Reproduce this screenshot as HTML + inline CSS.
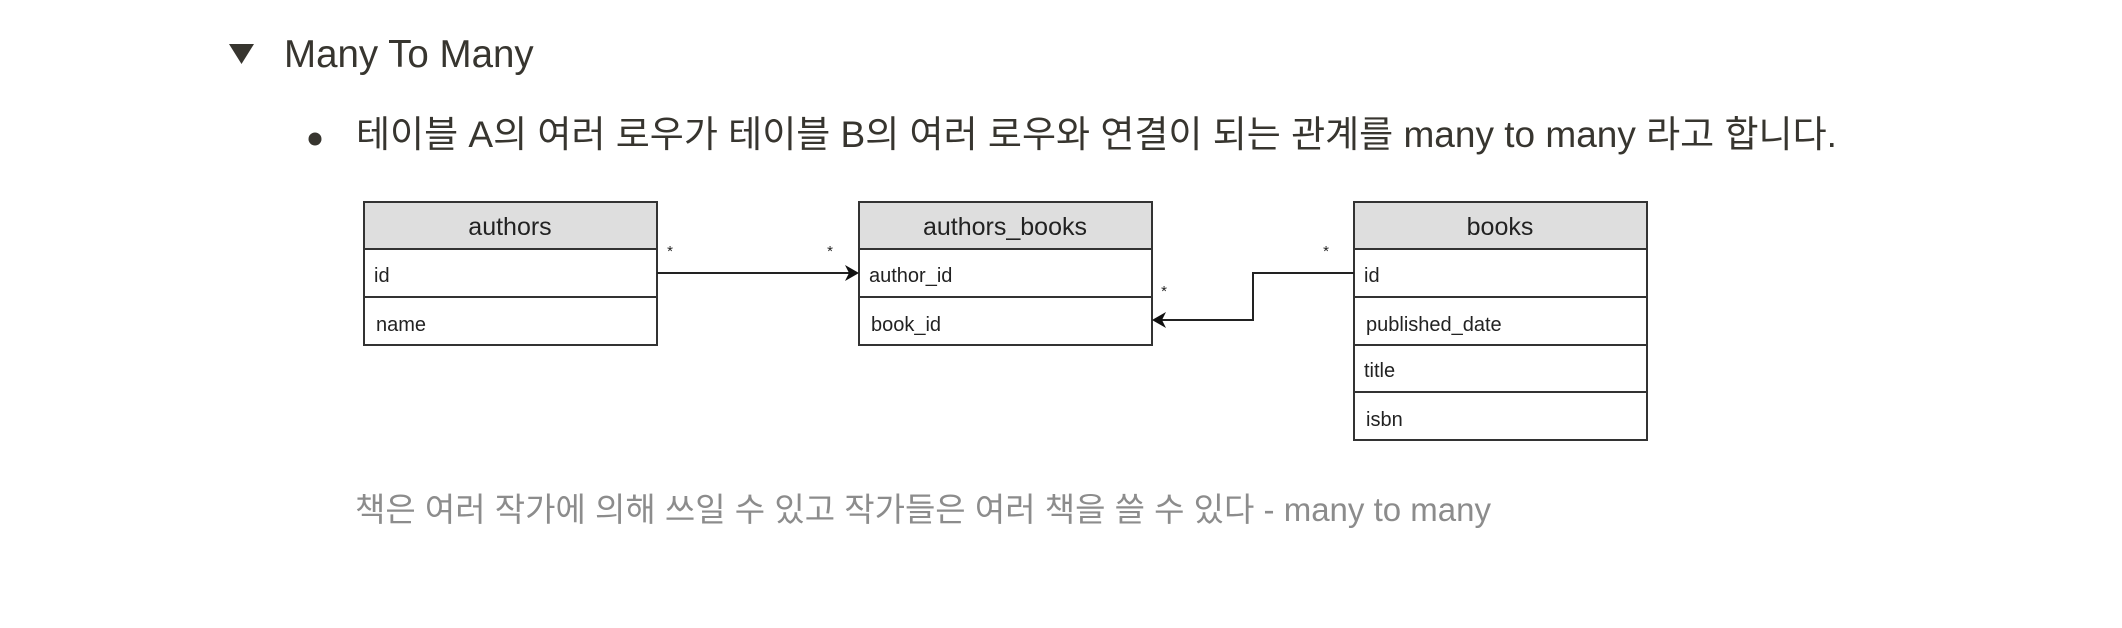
<!DOCTYPE html>
<html><head><meta charset="utf-8"><style>
html,body{margin:0;padding:0;background:#fff;width:2122px;height:628px;overflow:hidden;position:relative}
.t{position:absolute;white-space:nowrap;font-family:"Liberation Sans","Noto Sans CJK KR",sans-serif}
</style></head><body>
<svg width="2122" height="628" style="position:absolute;left:0;top:0">
<polygon points="229,44 254,44 241.5,64" fill="#37352f"/>
<circle cx="315" cy="139" r="6.5" fill="#37352f"/>
<g font-family="Liberation Sans, sans-serif" fill="#222">
<!-- authors -->
<rect x="364" y="202" width="293" height="47" fill="#dedede"/>
<rect x="364" y="202" width="293" height="143" fill="none" stroke="#333" stroke-width="2"/>
<line x1="364" y1="249" x2="657" y2="249" stroke="#333" stroke-width="2"/>
<line x1="364" y1="297" x2="657" y2="297" stroke="#333" stroke-width="2"/>
<text x="510" y="235" font-size="25" text-anchor="middle">authors</text>
<text x="374" y="282" font-size="20">id</text>
<text x="376" y="331" font-size="20">name</text>
<!-- authors_books -->
<rect x="859" y="202" width="293" height="47" fill="#dedede"/>
<rect x="859" y="202" width="293" height="143" fill="none" stroke="#333" stroke-width="2"/>
<line x1="859" y1="249" x2="1152" y2="249" stroke="#333" stroke-width="2"/>
<line x1="859" y1="297" x2="1152" y2="297" stroke="#333" stroke-width="2"/>
<text x="1005" y="235" font-size="25" text-anchor="middle">authors_books</text>
<text x="869" y="282" font-size="20">author_id</text>
<text x="871" y="331" font-size="20">book_id</text>
<!-- books -->
<rect x="1354" y="202" width="293" height="47" fill="#dedede"/>
<rect x="1354" y="202" width="293" height="238" fill="none" stroke="#333" stroke-width="2"/>
<line x1="1354" y1="249" x2="1647" y2="249" stroke="#333" stroke-width="2"/>
<line x1="1354" y1="297" x2="1647" y2="297" stroke="#333" stroke-width="2"/>
<line x1="1354" y1="345" x2="1647" y2="345" stroke="#333" stroke-width="2"/>
<line x1="1354" y1="392" x2="1647" y2="392" stroke="#333" stroke-width="2"/>
<text x="1500" y="235" font-size="25" text-anchor="middle">books</text>
<text x="1364" y="282" font-size="20">id</text>
<text x="1366" y="331" font-size="20">published_date</text>
<text x="1364" y="377" font-size="20">title</text>
<text x="1366" y="426" font-size="20">isbn</text>
<!-- connectors -->
<line x1="657" y1="273" x2="850" y2="273" stroke="#222" stroke-width="2"/>
<polygon points="859,273 845,265 849,273 845,281" fill="#111"/>
<polyline points="1354,273 1253,273 1253,320 1161,320" fill="none" stroke="#222" stroke-width="2"/>
<polygon points="1152,320 1166,312 1162,320 1166,328" fill="#111"/>
<g font-size="15"><text x="670" y="256" text-anchor="middle">*</text>
<text x="830" y="256" text-anchor="middle">*</text>
<text x="1326" y="256" text-anchor="middle">*</text>
<text x="1164" y="296" text-anchor="middle">*</text></g>
</g>
</svg>
<div class="t" style="left:284px;top:33px;font-size:38.5px;color:#37352f;line-height:44px">Many To Many</div>
<div class="t" style="left:356px;top:113px;font-size:37px;color:#37352f;line-height:44px">테이블 A의 여러 로우가 테이블 B의 여러 로우와 연결이 되는 관계를 many to many 라고 합니다.</div>
<div class="t" style="left:355px;top:490px;font-size:33px;color:#8c8c8c;line-height:40px">책은 여러 작가에 의해 쓰일 수 있고 작가들은 여러 책을 쓸 수 있다 - many to many</div>
</body></html>
